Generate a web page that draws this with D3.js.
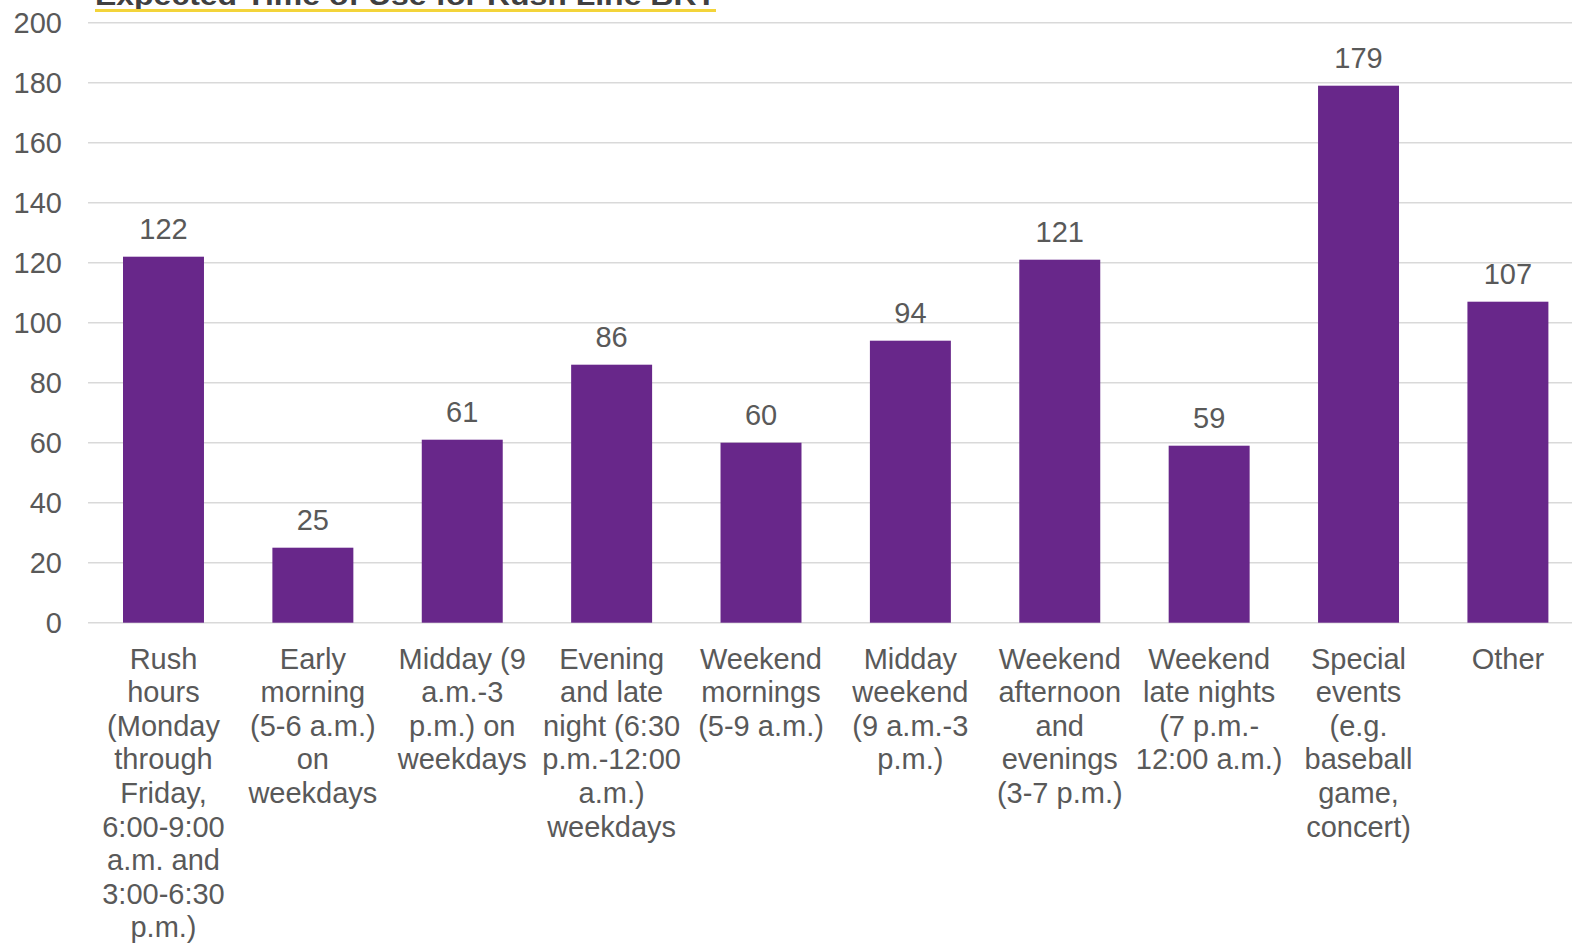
<!DOCTYPE html>
<html><head><meta charset="utf-8">
<script src="https://cdn.jsdelivr.net/npm/d3@7"></script>
<style>body{margin:0;background:#fff;}svg{display:block;font-family:Arial,"Liberation Sans",sans-serif;}</style>
</head><body><svg id="c" width="1572" height="943"></svg>
<script>
const title = "Expected Time of Use for Rush Line BRT";
const categories = [
  "Rush\nhours\n(Monday\nthrough\nFriday,\n6:00-9:00\na.m. and\n3:00-6:30\np.m.)",
  "Early\nmorning\n(5-6 a.m.)\non\nweekdays",
  "Midday (9\na.m.-3\np.m.) on\nweekdays",
  "Evening\nand late\nnight (6:30\np.m.-12:00\na.m.)\nweekdays",
  "Weekend\nmornings\n(5-9 a.m.)",
  "Midday\nweekend\n(9 a.m.-3\np.m.)",
  "Weekend\nafternoon\nand\nevenings\n(3-7 p.m.)",
  "Weekend\nlate nights\n(7 p.m.-\n12:00 a.m.)",
  "Special\nevents\n(e.g.\nbaseball\ngame,\nconcert)",
  "Other"
];
const values = [122, 25, 61, 86, 60, 94, 121, 59, 179, 107];
const yTicks = [0, 20, 40, 60, 80, 100, 120, 140, 160, 180, 200];

const FS = 29;
const svg = d3.select("#c");
const x = d3.scaleBand().domain(categories).range([88.5, 1582.9]).paddingInner(0.458).paddingOuter(0.231);
const y = d3.scaleLinear().domain([0, 200]).range([622.7, 22.7]);

// gridlines
svg.append("g").selectAll("line").data(yTicks).join("line")
  .attr("x1", 88).attr("x2", 1572)
  .attr("y1", d => y(d)).attr("y2", d => y(d))
  .attr("stroke", "#d9d9d9").attr("stroke-width", 1.5);

// y axis labels
const yAxis = d3.axisLeft(y).tickValues(yTicks).tickSize(0).tickPadding(0);
const ga = svg.append("g").attr("transform", "translate(62,0)").call(yAxis);
ga.select(".domain").remove();
ga.selectAll("text").attr("font-size", FS).attr("fill", "#595959").attr("font-family", "Arial, 'Liberation Sans', sans-serif").attr("dy", "0.35em");

// bars
svg.append("g").selectAll("rect").data(values).join("rect")
  .attr("x", (d, i) => x(categories[i]))
  .attr("width", x.bandwidth())
  .attr("y", d => y(d))
  .attr("height", d => y(0) - y(d))
  .attr("fill", "#68278A");

// value labels
svg.append("g").selectAll("text").data(values).join("text")
  .attr("x", (d, i) => x(categories[i]) + x.bandwidth() / 2)
  .attr("y", d => y(d) - 18)
  .attr("text-anchor", "middle")
  .attr("font-size", FS).attr("fill", "#595959")
  .text(d => d);

// category labels
const cl = svg.append("g").selectAll("text").data(categories).join("text")
  .attr("text-anchor", "middle")
  .attr("font-size", FS).attr("fill", "#595959");
cl.each(function(d) {
  const t = d3.select(this);
  const cx = x(d) + x.bandwidth() / 2;
  d.split("\n").forEach((ln, i) => {
    t.append("tspan").attr("x", cx).attr("y", 668.5 + i * 33.6).text(ln);
  });
});

// title (mostly clipped at top)
svg.append("text").attr("x", 95).attr("y", 5)
  .attr("font-size", 28).attr("font-weight", "bold").attr("fill", "#404040")
  .attr("textLength", 621).attr("lengthAdjust", "spacingAndGlyphs")
  .text(title);
svg.append("rect").attr("x", 95).attr("y", 9).attr("width", 621).attr("height", 3).attr("fill", "#F3D43A");
</script></body></html>
